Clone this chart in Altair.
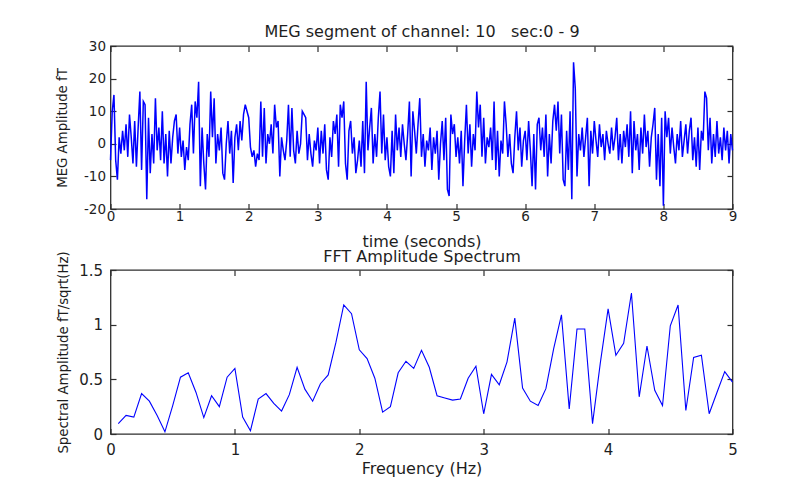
import altair as alt
import pandas as pd

# ---------------- data ----------------
meg_time_step = 0.025  # seconds between samples
meg_values = [
    -5, 10, 15, -5, -11, 2, -3, 4, -2, 6, -4, 9, 2, -6, 7, -7, 5, 16, -8, 13,
    12, -17, 8, -9, 3, -6, 14, -2, 5, -5, 10, -6, 3, -10, 4, -6, 2, 7, 9, -3,
    5, -4, 1, -8, -1, -5, 6, 12, -3, 13, 8, 19, -13, 5, -6, -14, 3, -4, 16, 2,
    14, -6, 3, -2, 5, -9, -11, 0, 7, -3, 4, -12, 2, 6, -2, 7, 1, 9, 12, 10,
    8, -1, -4, -2, -7, -3, -5, 13, -4, 11, -6, 3, 0, 6, -3, 12, 5, 7, -10, 2,
    -2, -5, 1, 12, -4, 11, -2, -6, 4, -3, 0, 10, 9, 8, -5, 3, -3, -7, 1, -2,
    5, -6, 4, -3, 6, -8, -11, 2, -4, 7, 3, 9, -7, 12, 8, 13, -6, -11, 4, 7,
    -3, 2, -9, -5, 1, -7, 7, -9, 19, -2, 5, 11, -6, 3, -4, 8, 16, -3, 9, -5,
    2, -7, -10, 4, -9, 9, -2, 5, -4, 6, 0, -5, 3, 13, -10, 10, 4, -3, 6, 14,
    -4, 3, -7, 1, -2, 5, -8, 2, -3, 4, -11, 0, 7, -5, 8, -14, -16, 9, 3, 6,
    -4, 2, -6, 4, -13, 1, 12, -3, 6, -7, 3, -2, 16, 5, 12, -4, 8, -6, 2, -1,
    5, -5, 13, -8, 4, -10, 1, -3, 13, 6, -4, 3, -6, -9, 2, 10, -2, 5, -7, 1,
    4, -5, 7, -2, -13, 3, -14, 6, 8, -2, 5, -4, 9, -10, 3, -6, 7, 12, 4, 13,
    -3, 9, -11, -13, 4, -8, 10, -17, 25, 17, -10, 3, -2, 5, -4, 2, 8, -13, 4, -3,
    7, 1, -4, 6, -1, 3, -5, 4, 0, -3, 5, -2, 2, 8, -5, 3, -6, 4, -1, 6,
    -4, 10, -9, 7, -2, 3, -8, 5, -3, 9, -1, 4, -7, 2, 6, 11, -11, 3, -13, 8,
    -19, 10, 2, 8, -3, 5, -1, -6, 3, -2, 7, -4, 1, 6, -3, 4, 8, -5, 2, -7,
    5, -8, 4, 1, 16, 14, -2, 8, -6, 3, -4, 7, -3, 2, -5, 5, -2, 4, -6, 3,
    -2,
]
meg_times = [round(i * meg_time_step, 4) for i in range(len(meg_values))]

fft_freq_step = 0.0625  # Hz between spectral lines
fft_values = [
    0.095, 0.17, 0.155, 0.37, 0.30, 0.17, 0.02, 0.26, 0.52, 0.56,
    0.38, 0.15, 0.35, 0.25, 0.52, 0.60, 0.155, 0.03, 0.32, 0.37,
    0.28, 0.21, 0.36, 0.61, 0.41, 0.30, 0.46, 0.54, 0.84, 1.18,
    1.10, 0.77, 0.69, 0.51, 0.20, 0.25, 0.56, 0.665, 0.60, 0.765,
    0.61, 0.35, 0.33, 0.31, 0.32, 0.51, 0.62, 0.185, 0.545, 0.45,
    0.66, 1.06, 0.42, 0.30, 0.26, 0.415, 0.78, 1.09, 0.23, 0.96,
    0.96, 0.095, 0.65, 1.145, 0.72, 0.83, 1.29, 0.34, 0.805, 0.40,
    0.26, 0.99, 1.18, 0.215, 0.70, 0.72, 0.185, 0.38, 0.57, 0.475,
]
fft_freqs = [round((i + 1) * fft_freq_step, 4) for i in range(len(fft_values))]

# (non-breaking spaces keep the three-space gap of the original title visible)
top_title = "MEG segment of channel: 10\u00a0\u00a0\u00a0sec:0 - 9"
top_xtitle = "time (seconds)"
top_ytitle = "MEG Amplitude fT"
top_xticks = [0, 1, 2, 3, 4, 5, 6, 7, 8, 9]
top_yticks = [-20, -10, 0, 10, 20, 30]

bot_title = "FFT Amplitude Spectrum"
bot_xtitle = "Frequency (Hz)"
bot_ytitle = "Spectral Amplitude fT/sqrt(Hz)"
bot_xticks = [0, 1, 2, 3, 4, 5]
bot_yticks = [0, 0.5, 1, 1.5]

# ---------------- style ----------------
FONT = "DejaVu Sans"
AX = "#2e2e2e"
TXT = "#1e1e1e"
LINE = "#0000ff"
W = 622
H_TOP = 163
H_BOT = 164
LABEL_EXPR = "'' + datum.value"


def tick_axis(orient, offset, values):
    return alt.Axis(orient=orient, offset=offset, values=values, labels=False,
                    domain=False, ticks=True, tickSize=5.5, tickColor=AX,
                    tickWidth=1.2, grid=False, title=None)


def panel(df, xf, yf, xdom, ydom, xticks, yticks, xtitle, ytitle, title, h,
          lab_fs, lab_pad_x, lab_pad_y, tit_pad_x, tit_pad_y, tit_pad_top, width):
    xs = alt.Scale(domain=xdom, nice=False, zero=False)
    ys = alt.Scale(domain=ydom, nice=False, zero=False)
    main = alt.Chart(df).mark_line(color=LINE, strokeWidth=width).encode(
        x=alt.X(f"{xf}:Q", scale=xs, axis=alt.Axis(
            orient="bottom", values=xticks, title=xtitle, ticks=False, tickSize=0,
            domain=False, grid=False, labelPadding=lab_pad_x, titlePadding=tit_pad_x,
            labelFlush=False, labelExpr=LABEL_EXPR, labelFontSize=lab_fs)),
        y=alt.Y(f"{yf}:Q", scale=ys, axis=alt.Axis(
            orient="left", values=yticks, title=ytitle, ticks=False, tickSize=0,
            domain=False, grid=False, labelPadding=lab_pad_y, titlePadding=tit_pad_y,
            labelExpr=LABEL_EXPR, labelFontSize=lab_fs, titleFontSize=13.3)),
    )
    ghost_a = alt.Chart(df).mark_line(strokeOpacity=0).encode(
        x=alt.X(f"{xf}:Q", scale=xs, axis=tick_axis("top", -h, xticks)),
        y=alt.Y(f"{yf}:Q", scale=ys, axis=tick_axis("right", -W, yticks)),
    )
    ghost_b = alt.Chart(df).mark_line(strokeOpacity=0).encode(
        x=alt.X(f"{xf}:Q", scale=xs, axis=tick_axis("bottom", -h, xticks)),
        y=alt.Y(f"{yf}:Q", scale=ys, axis=tick_axis("left", -W, yticks)),
    )
    ghost_t = alt.Chart(df).mark_line(strokeOpacity=0).encode(
        x=alt.X(f"{xf}:Q", scale=xs, axis=alt.Axis(
            orient="top", offset=0, labels=False, ticks=False, domain=False,
            grid=False, title=title, titlePadding=tit_pad_top,
            titleBaseline="alphabetic", titleFontSize=16)),
        y=alt.Y(f"{yf}:Q", scale=ys, axis=None),
    )
    return alt.layer(main, ghost_a, ghost_b, ghost_t).resolve_axis(
        x="independent", y="independent"
    ).properties(width=W, height=h)


top_df = pd.DataFrame({"t": meg_times, "v": meg_values})
bot_df = pd.DataFrame({"f": fft_freqs, "a": fft_values})

top = panel(top_df, "t", "v", [0, 9], [-20, 30], top_xticks, top_yticks,
            top_xtitle, top_ytitle, top_title, H_TOP,
            13.5, 0, 5, 10.5, 13.6, 9.5, 1.5)
bot = panel(bot_df, "f", "a", [0, 5], [0, 1.5], bot_xticks, bot_yticks,
            bot_xtitle, bot_ytitle, bot_title, H_BOT,
            15, 8, 8, 3, 8.5, 8.5, 1.1)

chart = alt.vconcat(top, bot, spacing=61, bounds="flush").properties(
    padding={"left": 46.5, "top": 14, "right": 5, "bottom": 5},
    background="white",
).configure_view(
    stroke=AX, strokeWidth=1.3, fill="white"
).configure_axis(
    labelFont=FONT, labelColor=TXT,
    titleFont=FONT, titleFontSize=16, titleColor=TXT, titleFontWeight="normal",
)

chart.save("out.html", embed_options={"renderer": "svg", "actions": False})
